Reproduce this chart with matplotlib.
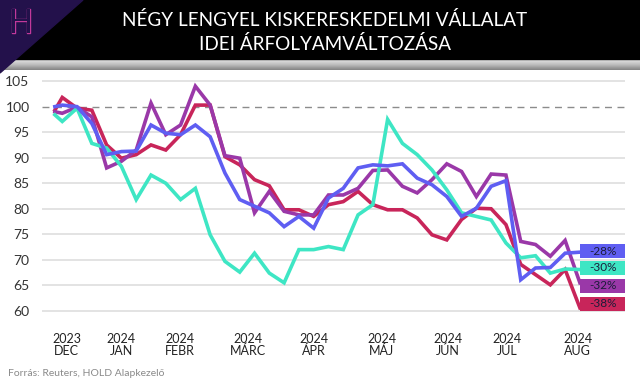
import numpy as np
import matplotlib
matplotlib.use("Agg")
import matplotlib.pyplot as plt
import matplotlib.patheffects as pe
from matplotlib.patches import Polygon, Rectangle

plt.rcParams['font.family'] = ['Lato', 'DejaVu Sans']

# weeks relative to the end of 2023 (base = 100)
weeks = [-1.5, -1] + list(range(35))

blue = [100.0, 100.3, 100.0, 96.7, 90.6, 91.2, 91.3, 96.4, 94.8, 94.5, 96.4, 94.1,
        87.0, 81.8, 80.5, 79.2, 76.5, 78.5, 76.2, 82.1, 84.0, 88.0, 88.6, 88.4,
        88.8, 86.0, 84.7, 82.4, 78.5, 80.1, 84.4, 85.5, 66.1, 68.4, 68.5, 71.3, 71.5]
teal = [98.4, 97.1, 99.7, 92.8, 91.9, 88.3, 81.8, 86.6, 85.0, 81.8, 84.0, 74.9,
        69.7, 67.6, 71.3, 67.4, 65.5, 72.0, 72.0, 72.6, 72.0, 78.8, 80.8, 97.5,
        92.8, 90.6, 87.6, 83.7, 79.2, 78.5, 77.8, 73.3, 70.4, 70.8, 67.4, 68.2, 68.1]
purple = [99.0, 98.7, 99.9, 98.0, 88.0, 89.3, 91.5, 100.7, 94.5, 96.4, 104.0, 100.3,
          90.4, 89.9, 79.2, 83.4, 79.5, 78.8, 78.8, 82.7, 82.7, 84.0, 87.5, 87.6,
          84.4, 83.1, 85.7, 88.8, 87.3, 82.4, 86.8, 86.6, 73.6, 73.0, 70.7, 73.8, 65.5]
red = [99.3, 101.8, 99.7, 99.3, 92.5, 89.9, 90.6, 92.5, 91.5, 94.5, 100.3, 100.3,
       90.2, 88.6, 85.7, 84.5, 79.8, 79.8, 78.5, 80.8, 81.4, 83.4, 80.8, 79.8,
       79.8, 78.2, 74.9, 73.9, 77.9, 80.1, 80.0, 76.9, 69.1, 67.1, 65.1, 68.1, 60.6]

tick_pos = [-0.7, 3.0, 6.95, 11.57, 16.04, 20.6, 25.07, 29.07, 33.85]
tick_labels = ["2023\nDEC", "2024\nJAN", "2024\nFEBR", "2024\nMÁRC", "2024\nÁPR",
               "2024\nMÁJ", "2024\nJÚN", "2024\nJÚL", "2024\nAUG"]

end_labels = ["-28%", "-30%", "-32%", "-38%"]
label_y = [71.7, 68.4, 64.9, 61.4]

c_blue = "#5f5ef2"
c_teal = "#3ee6c4"
c_purple = "#9a38a8"
c_red = "#c8255a"

fig = plt.figure(figsize=(6.4, 3.86), dpi=100)
fig.patch.set_facecolor("white")

# header band
hdr = fig.add_axes([0, 0, 1, 1], zorder=0)
hdr.set_xlim(0, 640)
hdr.set_ylim(386, 0)
hdr.axis("off")
# soft shadow under the black band
grad = np.linspace(0, 1, 20).reshape(-1, 1)
hdr.imshow(grad, extent=(0, 640, 70, 59), cmap="Greys", vmin=-0.5, vmax=2.2,
           aspect="auto", zorder=0)
hdr.add_patch(Rectangle((0, 0), 640, 59, color="black", zorder=1))
hdr.add_patch(Polygon([(0, 0), (83, 0), (0, 73)], closed=True,
                      color="#23114b", zorder=2))
hdr.text(21, 24, "H", fontsize=23, color="#23114b", ha="center", va="center",
         family="DejaVu Sans",
         path_effects=[pe.withStroke(linewidth=1.0, foreground="#c2399b")], zorder=3)
hdr.text(325, 20, "NÉGY LENGYEL KISKERESKEDELMI VÁLLALAT", fontsize=13.6,
         color="white", ha="center", va="center", zorder=3)
hdr.text(325, 44, "IDEI ÁRFOLYAMVÁLTOZÁSA", fontsize=13.6,
         color="white", ha="center", va="center", zorder=3)
hdr.text(8, 374, "Forrás: Reuters, HOLD Alapkezelő", fontsize=7.5,
         color="#8a8a8a", ha="left", va="center")

ax = fig.add_axes([42 / 640, 1 - 316 / 386, (625 - 42) / 640, (316 - 76) / 386], zorder=2)
ax.patch.set_alpha(0)
ax.set_xlim(-2.37, 37.05)
ax.set_ylim(59, 106)
for s in ax.spines.values():
    s.set_visible(False)

yt = [60, 65, 70, 75, 80, 85, 90, 95, 100, 105]
ax.set_yticks(yt)
ax.set_yticklabels([str(v) for v in yt], fontsize=10, color="#333333")
ax.tick_params(axis="y", length=0, pad=9)
for v in yt:
    if v == 100:
        ax.axhline(v, color="#8c8c8c", lw=1.0, ls=(0, (5, 4)), zorder=1)
    else:
        ax.axhline(v, color="#dedede", lw=1.2, zorder=1)

ax.set_xticks(tick_pos)
ax.set_xticklabels(tick_labels, fontsize=9, color="#222222", linespacing=1.0)
ax.tick_params(axis="x", length=0, pad=12)

lw = 2.6
ax.plot(weeks, red, color=c_red, lw=lw, zorder=3, solid_joinstyle="miter")
ax.plot(weeks, purple, color=c_purple, lw=lw, zorder=4, solid_joinstyle="miter")
ax.plot(weeks, teal, color=c_teal, lw=lw, zorder=5, solid_joinstyle="miter")
ax.plot(weeks, blue, color=c_blue, lw=lw, zorder=6, solid_joinstyle="miter")

# end-value tags (box 45 x 14 px)
bw = 45 / 14.79
bh = 14 / 5.104
for txt, yv, col in zip(end_labels, label_y, [c_blue, c_teal, c_purple, c_red]):
    ax.add_patch(Rectangle((34.02, yv - bh / 2), bw, bh, fc=col, ec="none",
                           zorder=9, clip_on=False))
    ax.text(34.02 + bw / 2, yv, txt, fontsize=8.5, color="#1c1c3a",
            ha="center", va="center", zorder=10)

fig.savefig("out.png", dpi=100)
